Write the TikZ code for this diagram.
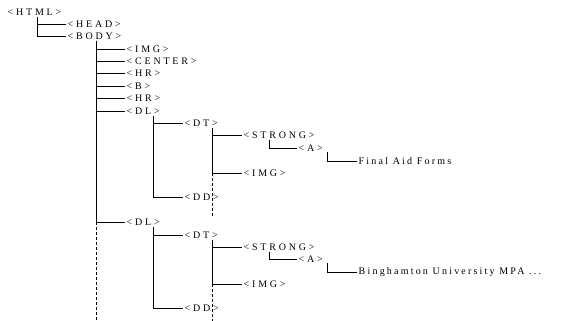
\documentclass[tikz,border=0pt]{standalone}
\usepackage{fontspec}
\newfontfamily\tagfont[LetterSpace=28]{Liberation Serif}
\newfontfamily\txtfont[LetterSpace=22]{Liberation Serif}
\begin{document}
\begin{tikzpicture}[x=1pt,y=-1pt,
  tag/.style={anchor=west,inner xsep=1.5pt,inner ysep=0pt,font=\tagfont\fontsize{10}{11}\selectfont},
  txt/.style={tag,font=\txtfont\fontsize{10}{11}\selectfont},
  link/.style={line width=0.8pt},
  cont/.style={line width=0.8pt,dash pattern=on 3pt off 2pt}]
\useasboundingbox (0,0) rectangle (568,321);
% nodes
\node[tag] (html) at (6,12) {<HTML>};
\node[tag] (head) at (66,24) {<HEAD>};
\node[tag] (body) at (66,36) {<BODY>};
\node[tag] (img1) at (125,49) {<IMG>};
\node[tag] (center) at (125,61) {<CENTER>};
\node[tag] (hr1) at (125,73) {<HR>};
\node[tag] (b) at (125,86) {<B>};
\node[tag] (hr2) at (125,98) {<HR>};
\node[tag] (dl1) at (125,111) {<DL>};
\node[tag] (dl2) at (125,222) {<DL>};
\node[tag] (dt1) at (183,123) {<DT>};
\node[tag] (dd1) at (183,197) {<DD>};
\node[tag] (strong1) at (242,135) {<STRONG>};
\node[tag] (img2) at (242,173) {<IMG>};
\node[tag] (a1) at (297,148) {<A>};
\node[txt] (faf) at (357,161) {Final Aid Forms};
\node[tag] (dt2) at (183,235) {<DT>};
\node[tag] (dd2) at (183,308) {<DD>};
\node[tag] (strong2) at (242,247) {<STRONG>};
\node[tag] (img3) at (242,284) {<IMG>};
\node[tag] (a2) at (297,259) {<A>};
\node[txt] (bu) at (357,272) {Binghamton University MPA ...};
% trunk tops
\coordinate (thtml) at (37,17);
\coordinate (tbody) at (96,41);
\coordinate (tdl1) at (153,116);
\coordinate (tdt1) at (212,128);
\coordinate (tstrong1) at (269,140);
\coordinate (ta1) at (327,152);
\coordinate (tdl2) at (153,227);
\coordinate (tdt2) at (212,240);
\coordinate (tstrong2) at (269,252);
\coordinate (ta2) at (327,263);
% continuation ends
\coordinate (ebody) at (96,321);
\coordinate (edt1) at (212,217);
\coordinate (edt2) at (212,321);
% connectors
\foreach \c in {head,body} \draw[link] (thtml) |- (\c.west);
\foreach \c in {img1,center,hr1,b,hr2,dl1,dl2} \draw[link] (tbody) |- (\c.west);
\foreach \c in {dt1,dd1} \draw[link] (tdl1) |- (\c.west);
\foreach \c in {strong1,img2} \draw[link] (tdt1) |- (\c.west);
\draw[link] (tstrong1) |- (a1.west);
\draw[link] (ta1) |- (faf.west);
\foreach \c in {dt2,dd2} \draw[link] (tdl2) |- (\c.west);
\foreach \c in {strong2,img3} \draw[link] (tdt2) |- (\c.west);
\draw[link] (tstrong2) |- (a2.west);
\draw[link] (ta2) |- (bu.west);
\draw[cont] (tbody |- dl2.west) -- (ebody);
\draw[cont] (tdt1 |- img2.west) -- (edt1);
\draw[cont] (tdt2 |- img3.west) -- (edt2);
\end{tikzpicture}
\end{document}
